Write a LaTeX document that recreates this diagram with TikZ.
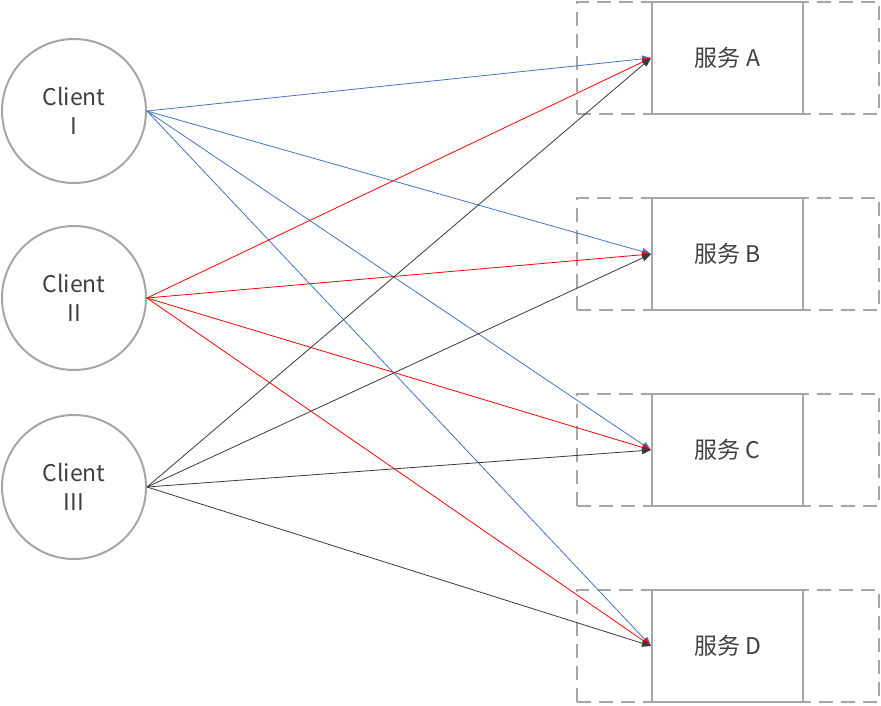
\documentclass[tikz,border=0pt]{standalone}
\usepackage{fontspec}
\setmainfont{Noto Sans CJK SC}
\usetikzlibrary{arrows.meta}
\definecolor{rimgray}{HTML}{A6A6A6}
\definecolor{txtgray}{HTML}{404040}
\definecolor{linkblue}{HTML}{4472C4}
\definecolor{linkdark}{HTML}{3A3A3A}
\begin{document}
\begin{tikzpicture}[x=1pt,y=-1pt]
\tikzset{
  client/.style={circle,draw=rimgray,line width=2pt,minimum size=144pt,inner sep=0pt,
    text=txtgray,align=center,font=\fontsize{23}{29}\selectfont},
  svcbox/.style={rectangle,draw=rimgray,line width=2pt,fill=white,minimum width=151pt,
    minimum height=112pt,inner sep=0pt,text=txtgray,font=\fontsize{23}{29}\selectfont},
  zonebox/.style={rectangle,draw=rimgray,line width=2pt,dash pattern=on 14pt off 8pt,
    minimum width=302pt,minimum height=112pt,inner sep=0pt},
  link/.style={line width=0.8pt,-{Triangle[length=9pt,width=7pt]}}
}
\useasboundingbox (0,0) rectangle (881,705);
% clients
\node [client] (c1) at (74,111) {Client\\I};
\node [client] (c2) at (74,298) {Client\\II};
\node [client] (c3) at (74,487) {Client\\III};
% dashed zones
\node [zonebox] (zA) at (728,58) {};
\node [zonebox] (zB) at (728,254) {};
\node [zonebox] (zC) at (728,450) {};
\node [zonebox] (zD) at (728,646) {};
% services
\node [svcbox] (sA) at (727.5,58) {服务 A};
\node [svcbox] (sB) at (727.5,254) {服务 B};
\node [svcbox] (sC) at (727.5,450) {服务 C};
\node [svcbox] (sD) at (727.5,646) {服务 D};
% client I
\draw [link,linkblue] (c1.east) -- (sA.west);
\draw [link,linkblue] (c1.east) -- (sB.west);
\draw [link,linkblue] (c1.east) -- (sC.west);
\draw [link,linkblue] (c1.east) -- (sD.west);
% client II
\draw [link,red] (c2.east) -- (sA.west);
\draw [link,red] (c2.east) -- (sB.west);
\draw [link,red] (c2.east) -- (sC.west);
\draw [link,red] (c2.east) -- (sD.west);
% client III
\draw [link,linkdark] (c3.east) -- (sA.west);
\draw [link,linkdark] (c3.east) -- (sB.west);
\draw [link,linkdark] (c3.east) -- (sC.west);
\draw [link,linkdark] (c3.east) -- (sD.west);
\end{tikzpicture}
\end{document}
